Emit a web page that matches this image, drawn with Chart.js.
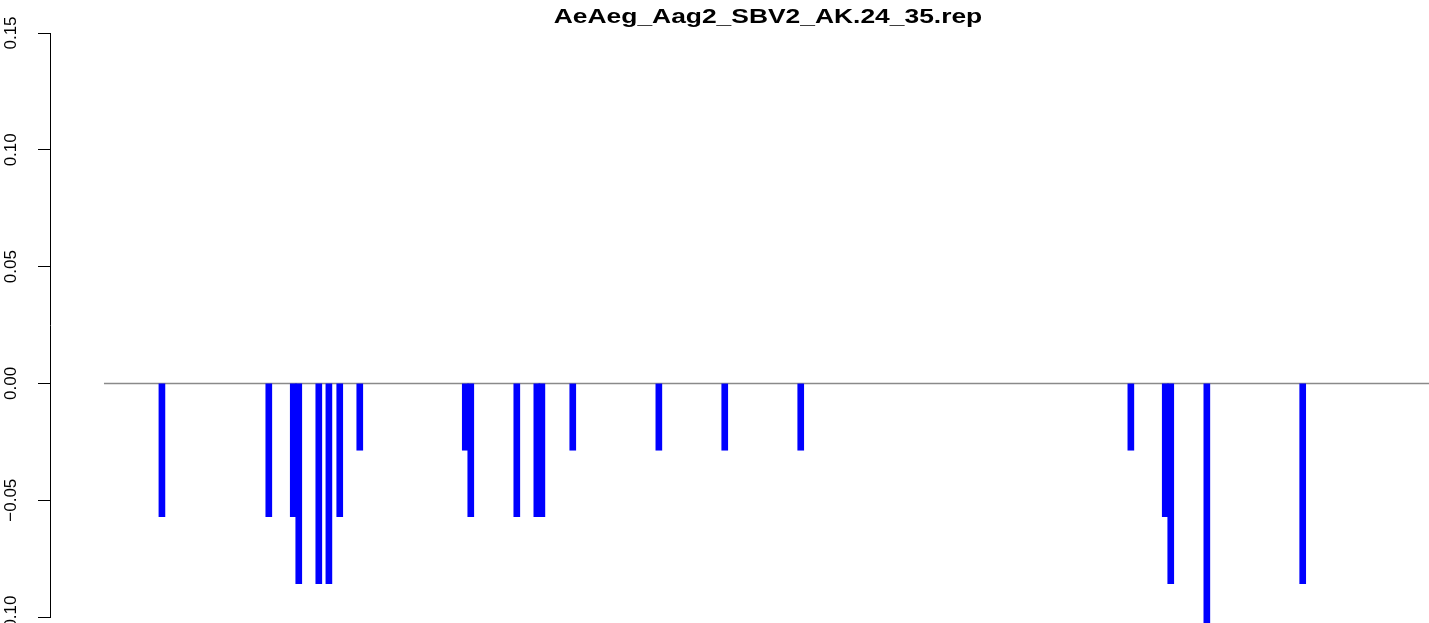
<!DOCTYPE html>
<html>
<head>
<meta charset="utf-8">
<script src="https://cdn.jsdelivr.net/npm/chart.js@4"></script>
<style>
  html, body { margin: 0; padding: 0; background: #fff; overflow: hidden; }
  canvas { display: block; }
</style>
</head>
<body>
<canvas id="grafico" width="1429" height="623"></canvas>
<script>
const titulo = "AeAeg_Aag2_SBV2_AK.24_35.rep";

// posicoes no genoma (estimadas) e valores de cada barra
const posicoes = [380, 1079, 1239, 1275, 1406, 1472, 1543, 1674, 2364, 2400, 2701,
  2832, 2865, 3067, 3630, 4061, 4558, 6717, 6942, 6978, 7214, 7841];
const valores = [-0.0571, -0.0571, -0.0571, -0.0857, -0.0857, -0.0857, -0.0571, -0.0286,
  -0.0286, -0.0571, -0.0571, -0.0571, -0.0571, -0.0286, -0.0286, -0.0286, -0.0286,
  -0.0286, -0.0571, -0.0857, -0.1143, -0.0857];

// linha do zero: inicio e fim do genoma
const linhaZeroX = [1, 8832];
const yTicks = [-0.10, -0.05, 0.00, 0.05, 0.10, 0.15];

// titulo desenhado a mao (esticado na horizontal como no R)
const tituloPlugin = {
  id: "tituloR",
  afterDraw(chart) {
    const ctx = chart.ctx;
    ctx.save();
    ctx.font = "bold 20px 'Liberation Sans', Arial, sans-serif";
    ctx.fillStyle = "#000";
    ctx.textAlign = "center";
    ctx.textBaseline = "alphabetic";
    ctx.translate(768, 23);
    ctx.scale(1.32, 1);
    ctx.fillText(titulo, 0, 0);
    ctx.restore();
  }
};

const ctx = document.getElementById("grafico").getContext("2d");
new Chart(ctx, {
  type: "bar",
  data: {
    datasets: [
      {
        type: "line",
        data: linhaZeroX.map(x => ({ x, y: 0 })),
        borderColor: "#8a8a8a",
        borderWidth: 1.5,
        pointRadius: 0,
        order: 2
      },
      {
        data: posicoes.map((x, i) => ({ x, y: valores[i] })),
        backgroundColor: "#0000ff",
        borderWidth: 0,
        barThickness: 6,
        clip: false,
        order: 1
      }
    ]
  },
  options: {
    responsive: false,
    animation: false,
    devicePixelRatio: 1,
    layout: { padding: { top: 33, bottom: 6, left: 0, right: 0 } },
    plugins: {
      legend: { display: false },
      tooltip: { enabled: false },
      title: { display: false }
    },
    scales: {
      x: {
        type: "linear",
        display: false,
        offset: false,
        min: -352,
        max: 8667
      },
      y: {
        min: -0.10,
        max: 0.15,
        afterFit: s => {
          s.width = 50;
          s.paddingTop = 0;
          s.paddingBottom = 0;
        },
        afterBuildTicks: s => { s.ticks = yTicks.map(v => ({ value: v })); },
        border: { display: true, color: "#000", width: 1 },
        grid: {
          display: true,
          drawOnChartArea: false,
          drawTicks: true,
          tickLength: 12,
          tickColor: "#000",
          tickWidth: 1
        },
        ticks: {
          minRotation: 90,
          maxRotation: 90,
          crossAlign: "center",
          padding: 5,
          color: "#000",
          font: { family: "'Liberation Sans', Arial, sans-serif", size: 17 },
          callback: v => v.toFixed(2).replace("-", "\u2212")
        }
      }
    }
  },
  plugins: [tituloPlugin]
});
</script>
</body>
</html>
